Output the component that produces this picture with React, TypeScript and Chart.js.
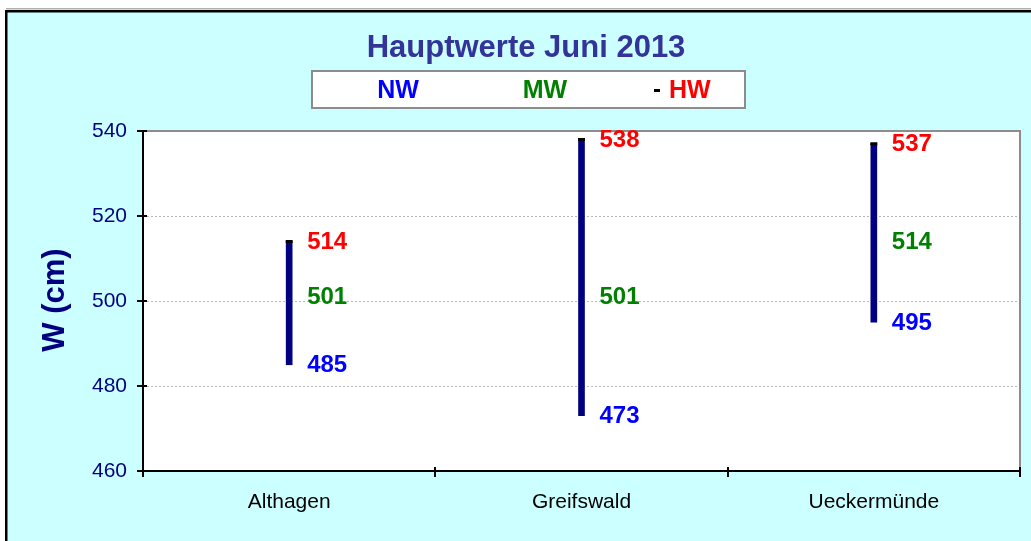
import React, { useEffect, useRef } from "react";
import { Chart, registerables } from "chart.js";
Chart.register(...registerables);

const categories = ["Althagen", "Greifswald", "Ueckermünde"];
const nwValues = [485, 473, 495];
const mwValues = [501, 501, 514];
const hwValues = [514, 538, 537];
const yTicks = [460, 480, 500, 520, 540];
const chartTitle = "Hauptwerte Juni 2013";
const yAxisTitle = "W (cm)";
const legendLabels = ["NW", "MW", "HW"];

const FONT = "'Liberation Sans', Arial, sans-serif";

const decor = {
  id: "decor",
  beforeDraw(chart: any) {
    const { ctx, width, height, chartArea: a } = chart;
    ctx.save();
    ctx.fillStyle = "#ffffff";
    ctx.fillRect(0, 0, width, height);
    ctx.fillStyle = "#CCFFFF";
    ctx.fillRect(6, 10, width - 6, height - 10);
    ctx.fillStyle = "#b0b0b0";
    ctx.fillRect(6, 8, width - 6, 1.5);
    ctx.fillStyle = "#000000";
    ctx.fillRect(5, 10, width - 5, 2.5);
    ctx.fillRect(5, 10, 2.5, height - 10);

    // plot area
    ctx.fillStyle = "#ffffff";
    ctx.fillRect(a.left, a.top, a.right - a.left, a.bottom - a.top);

    // grid lines
    const ys = chart.scales.y;
    ctx.strokeStyle = "#b8b8b8";
    ctx.lineWidth = 1;
    ctx.setLineDash([2, 2]);
    for (const v of yTicks) {
      if (v === ys.min || v === ys.max) continue;
      const py = Math.round(ys.getPixelForValue(v)) + 0.5;
      ctx.beginPath();
      ctx.moveTo(a.left, py);
      ctx.lineTo(a.right, py);
      ctx.stroke();
    }
    ctx.setLineDash([]);

    // gray top/right border
    ctx.strokeStyle = "#8c8c8c";
    ctx.lineWidth = 2;
    ctx.beginPath();
    ctx.moveTo(a.left, a.top);
    ctx.lineTo(a.right, a.top);
    ctx.lineTo(a.right, a.bottom);
    ctx.stroke();

    // title
    ctx.fillStyle = "#333399";
    ctx.font = `bold 31px ${FONT}`;
    ctx.textAlign = "center";
    ctx.textBaseline = "middle";
    ctx.fillText(chartTitle, 526, 48);

    // legend box
    ctx.fillStyle = "#ffffff";
    ctx.fillRect(312, 71, 433, 37);
    ctx.strokeStyle = "#8c8c8c";
    ctx.lineWidth = 2;
    ctx.strokeRect(312, 71, 433, 37);
    ctx.font = `bold 25px ${FONT}`;
    ctx.textBaseline = "middle";
    ctx.textAlign = "center";
    ctx.fillStyle = "#0000FF";
    ctx.fillText(legendLabels[0], 398, 91);
    ctx.fillStyle = "#008000";
    ctx.fillText(legendLabels[1], 545, 91);
    ctx.textAlign = "left";
    ctx.fillStyle = "#FF0000";
    ctx.fillText(legendLabels[2], 669, 91);
    ctx.fillStyle = "#000000";
    ctx.fillRect(654, 89, 6, 3);

    // y axis title
    ctx.save();
    ctx.translate(55, 300);
    ctx.rotate(-Math.PI / 2);
    ctx.fillStyle = "#000080";
    ctx.font = `bold 31px ${FONT}`;
    ctx.textAlign = "center";
    ctx.textBaseline = "middle";
    ctx.fillText(yAxisTitle, 0, 0);
    ctx.restore();

    ctx.restore();
  },
  afterDatasetsDraw(chart: any) {
    const { ctx, chartArea: a } = chart;
    const xs = chart.scales.x;
    const ys = chart.scales.y;
    ctx.save();
    // axes
    ctx.strokeStyle = "#000000";
    ctx.lineWidth = 2;
    ctx.beginPath();
    ctx.moveTo(a.left, a.top);
    ctx.lineTo(a.left, a.bottom);
    ctx.lineTo(a.right, a.bottom);
    ctx.stroke();
    // y ticks
    for (const v of yTicks) {
      const py = Math.round(ys.getPixelForValue(v));
      ctx.beginPath();
      ctx.moveTo(a.left - 6, py);
      ctx.lineTo(a.left + 4, py);
      ctx.stroke();
    }
    // x ticks at category boundaries
    const n = categories.length;
    const step = xs.getPixelForValue(1) - xs.getPixelForValue(0);
    for (let i = 0; i <= n; i++) {
      const px = Math.round(xs.getPixelForValue(0) - step / 2 + i * step);
      ctx.beginPath();
      ctx.moveTo(px, a.bottom - 4);
      ctx.lineTo(px, a.bottom + 6);
      ctx.stroke();
    }
    // value labels
    ctx.font = `bold 24px ${FONT}`;
    ctx.textAlign = "left";
    ctx.textBaseline = "middle";
    for (let i = 0; i < n; i++) {
      const px = xs.getPixelForValue(i) + 18;
      ctx.fillStyle = "#FF0000";
      ctx.fillText(String(hwValues[i]), px, ys.getPixelForValue(hwValues[i]) + 1);
      ctx.fillStyle = "#008000";
      ctx.fillText(String(mwValues[i]), px, ys.getPixelForValue(mwValues[i]) + 1);
      ctx.fillStyle = "#0000FF";
      ctx.fillText(String(nwValues[i]), px, ys.getPixelForValue(nwValues[i]) + 1);
    }
    ctx.restore();
  },
};

export default function App() {
  const ref = useRef<HTMLCanvasElement | null>(null);
  useEffect(() => {
    if (!ref.current) return;
    const chart = new Chart(ref.current, {
      type: "bar",
      data: {
        labels: categories,
        datasets: [
          {
            type: "line",
            label: "HW",
            data: hwValues,
            showLine: false,
            pointStyle: "line",
            pointRadius: 3.5,
            pointBorderWidth: 3,
            pointBorderColor: "#000000",
            pointBackgroundColor: "#000000",
            order: 1,
          } as any,
          {
            type: "bar",
            label: "NW-HW",
            data: nwValues.map((v, i) => [v, hwValues[i]]),
            backgroundColor: "#000080",
            borderWidth: 0,
            barThickness: 6,
            order: 2,
          } as any,
        ],
      },
      options: {
        responsive: false,
        animation: false,
        layout: { padding: { left: 0, top: 131, right: 11, bottom: 0 } },
        plugins: {
          legend: { display: false },
          title: { display: false },
          tooltip: { enabled: false },
        },
        scales: {
          x: {
            offset: true,
            grid: { display: false, drawTicks: false },
            border: { display: false },
            ticks: {
              color: "#000000",
              font: { family: FONT, size: 21 },
              padding: 19,
            },
            afterFit: (s: any) => {
              s.height = 70;
            },
          },
          y: {
            min: 460,
            max: 540,
            grid: { display: false, drawTicks: false },
            border: { display: false },
            ticks: {
              stepSize: 20,
              color: "#000080",
              font: { family: FONT, size: 21 },
              padding: 16,
            },
            afterFit: (s: any) => {
              s.width = 143;
            },
          },
        },
      } as any,
      plugins: [decor],
    });
    return () => chart.destroy();
  }, []);
  return (
    <div style={{ position: "absolute", left: 0, top: 0, width: 1031, height: 541 }}>
      <canvas ref={ref} width={1031} height={541} style={{ display: "block" }} />
    </div>
  );
}
